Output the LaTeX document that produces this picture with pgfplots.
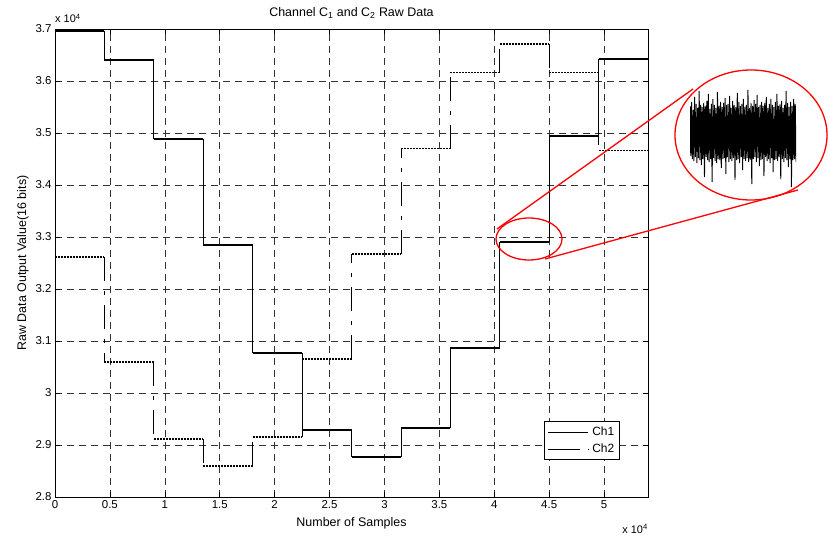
\documentclass[border=0pt]{standalone}
\usepackage{pgfplots}
\pgfplotsset{compat=1.18}
\usepackage{fontspec}
\setmainfont{Liberation Sans}

\begin{document}
\begin{tikzpicture}
\path[use as bounding box] (-55bp,-40bp) rectangle (773bp,497bp);
\begin{axis}[
  at={(0bp,0bp)}, anchor=south west,
  scale only axis, width=593bp, height=468bp,
  xmin=0, xmax=54000, ymin=28000, ymax=37000,
  xtick={0,5000,...,50000}, xticklabels={0,0.5,1,1.5,2,2.5,3,3.5,4,4.5,5},
  ytick={28000,29000,...,37000}, yticklabels={2.8,2.9,3,3.1,3.2,3.3,3.4,3.5,3.6,3.7},
  scaled ticks=false,
  tick align=inside, major tick length=5bp,
  tick style={black, line width=0.6bp},
  grid=major, major grid style={black!80, dash pattern=on 7bp off 5bp, line width=0.5bp},
  axis line style={line width=0.8bp},
  ticklabel style={font=\fontsize{11.5}{13}\selectfont},
  /pgf/number format/assume math mode=true,
  xlabel={Number of Samples}, ylabel={Raw Data Output Value(16 bits)},
  label style={font=\fontsize{12.5}{14}\selectfont},
  xlabel style={yshift=-2bp},
  title={Channel C\textsubscript{1} and C\textsubscript{2} Raw Data},
  title style={font=\fontsize{12.5}{14}\selectfont, yshift=1bp},
  unbounded coords=jump,
  legend style={at={(axis description cs:0.953,0.079)}, anchor=south east,
    font=\fontsize{12}{14}\selectfont, draw=black, line width=0.8bp, fill=white,
    inner sep=3.5bp, row sep=3bp},
  legend cell align=left,
]
% Ch1 horizontal levels
\addplot[black, line width=2bp, jump mark left, forget plot] coordinates {
(0,36960) (4500,36400) (9000,34880) (13500,32840) (18000,30770) (22500,29290)
(27000,28770) (31500,29330) (36000,30860) (40500,32900) (45000,34950) (49500,36430) (54000,36430)};
% Ch1 vertical transitions
\addplot[black, line width=0.8bp, forget plot] coordinates {
(4500,36960) (4500,36400) (4500,nan)
(9000,36400) (9000,34880) (9000,nan)
(13500,34880) (13500,32840) (13500,nan)
(18000,32840) (18000,30770) (18000,nan)
(22500,30770) (22500,29290) (22500,nan)
(27000,29290) (27000,28770) (27000,nan)
(31500,28770) (31500,29330) (31500,nan)
(36000,29330) (36000,30860) (36000,nan)
(40500,30860) (40500,32900) (40500,nan)
(45000,32900) (45000,34950) (45000,nan)
(49500,34950) (49500,36430)};
% Ch2 horizontal levels
\addplot[black, line width=1.6bp, dash pattern=on 2bp off 1bp, jump mark left, forget plot] coordinates {
(0,32620) (4500,30600) (9000,29110) (13500,28600) (18000,29150) (22500,30650)
(27000,32670) (31500,34700) (36000,36160) (40500,36710) (45000,36160) (49500,34660) (54000,34660)};
% Ch2 vertical transitions
\addplot[black, line width=0.8bp, dash pattern=on 24bp off 10bp on 4bp off 10bp, forget plot] coordinates {
(4500,32620) (4500,30600) (4500,nan)
(9000,30600) (9000,29110) (9000,nan)
(13500,29110) (13500,28600) (13500,nan)
(18000,28600) (18000,29150) (18000,nan)
(22500,29150) (22500,30650) (22500,nan)
(27000,30650) (27000,32670) (27000,nan)
(31500,32670) (31500,34700) (31500,nan)
(36000,34700) (36000,36160) (36000,nan)
(40500,36160) (40500,36710) (40500,nan)
(45000,36710) (45000,36160) (45000,nan)
(49500,36160) (49500,34660)};
\addlegendimage{legend image code/.code={\draw[black, line width=0.6bp] (0bp,0bp) -- (40bp,0bp);}}
\addlegendentry{Ch1}
\addlegendimage{legend image code/.code={\draw[black, line width=0.6bp, dash pattern=on 32bp off 8bp on 1.2bp off 10bp] (0bp,0bp) -- (42bp,0bp);}}
\addlegendentry{Ch2}
\end{axis}
% axis multipliers
\node[anchor=base west, inner sep=0pt, font=\fontsize{11}{12}\selectfont] at (0bp,474bp) {x 10\textsuperscript{4}};
\node[anchor=base east, inner sep=0pt, font=\fontsize{11}{12}\selectfont] at (593bp,-36bp) {x 10\textsuperscript{4}};
% zoomed noise inset
\begin{axis}[at={(635bp,307bp)}, anchor=south west, scale only axis,
  width=106bp, height=100bp, hide axis, xmin=0, xmax=139, ymin=-58, ymax=42]
\addplot[black, line width=0.95bp] table[x expr=\coordindex, y=v] {
v
26
-24
30
-27
22
-29
35
-25
28
-31
24
-26
41
-28
27
-33
25
-27
29
-45
26
-25
31
-28
38
-30
23
-27
28
-50
33
-26
27
-29
24
-31
40
-27
26
-28
30
-36
25
-27
29
-26
34
-42
27
-25
28
-30
36
-27
24
-29
31
-26
27
-48
25
-28
39
-27
30
-31
26
-25
28
-38
33
-27
25
-29
27
-26
42
-30
24
-28
29
-52
26
-27
32
-25
28
-30
37
-26
25
-34
27
-28
30
-27
26
-44
29
-25
35
-29
24
-27
28
-31
33
-26
27
-40
25
-28
30
-27
38
-29
26
-25
28
-47
31
-27
24
-30
27
-26
41
-28
29
-35
25
-27
30
-55
26
-28
33
-27
28
-30
};
\end{axis}
% red annotation
\draw[red, line width=1.3bp] (474bp,258bp) ellipse [x radius=33bp, y radius=21bp];
\draw[red, line width=1.3bp] (696bp,362bp) ellipse [x radius=76bp, y radius=65bp];
\draw[red, line width=1.3bp] (442bp,268bp) -- (638bp,408bp);
\draw[red, line width=1.3bp] (490bp,238bp) -- (743bp,307bp);
\end{tikzpicture}
\end{document}
